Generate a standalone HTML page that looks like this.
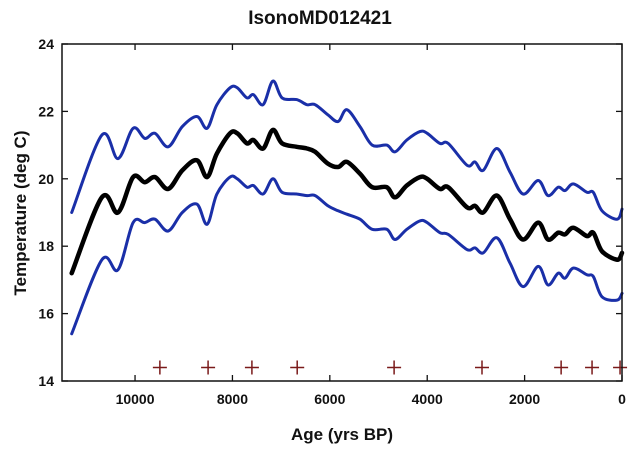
<!DOCTYPE html>
<html><head><meta charset="utf-8"><style>
html,body{margin:0;padding:0;background:#fff;}
svg{display:block;font-family:"Liberation Sans",sans-serif;}
</style></head><body>
<svg id="chart" width="639" height="455" viewBox="0 0 639 455" xmlns="http://www.w3.org/2000/svg">
<text x="320" y="24" text-anchor="middle" font-size="19" font-weight="bold" fill="#111">IsonoMD012421</text>
<text transform="translate(26,213) rotate(-90)" text-anchor="middle" font-size="17" font-weight="bold" fill="#111">Temperature (deg C)</text>
<text x="342" y="440" text-anchor="middle" font-size="17" font-weight="bold" fill="#111">Age (yrs BP)</text>
<g id="axes"></g>
<g id="series"></g>
<g id="markers"></g>
<rect x="62" y="44" width="560" height="337" fill="none" stroke="#111" stroke-width="1.5"/>
</svg>
<script>
const ages=[11300,10680,10350,10040,9800,9590,9320,9030,8730,8520,8320,8050,7900,7700,7570,7370,7170,6980,6680,6470,6300,6040,5830,5650,5380,5130,4830,4660,4420,4150,4000,3740,3570,3180,3020,2850,2570,2300,2030,1720,1520,1310,1170,1000,720,590,410,100,0];
const meanTemp=[17.2,19.45,19.0,20.05,19.9,20.05,19.7,20.25,20.55,20.05,20.75,21.35,21.35,21.05,21.15,20.9,21.45,21.05,20.95,20.9,20.8,20.45,20.35,20.5,20.15,19.75,19.75,19.45,19.8,20.05,20.0,19.7,19.75,19.15,19.2,19.0,19.5,18.8,18.2,18.7,18.2,18.4,18.35,18.55,18.3,18.4,17.85,17.6,17.8];
const upperTemp=[19.0,21.3,20.6,21.5,21.2,21.35,20.95,21.55,21.85,21.5,22.2,22.7,22.7,22.4,22.5,22.2,22.9,22.4,22.35,22.2,22.2,21.9,21.7,22.05,21.55,21.0,21.0,20.8,21.15,21.4,21.35,21.05,21.05,20.4,20.5,20.25,20.9,20.2,19.55,19.95,19.5,19.75,19.65,19.85,19.6,19.6,19.05,18.8,19.1];
const lowerTemp=[15.4,17.6,17.3,18.7,18.7,18.8,18.45,19.0,19.25,18.65,19.55,20.05,20.0,19.75,19.8,19.55,20.0,19.6,19.55,19.5,19.5,19.2,19.05,18.95,18.8,18.5,18.5,18.2,18.5,18.75,18.7,18.4,18.35,17.9,17.95,17.8,18.25,17.5,16.8,17.4,16.85,17.2,17.05,17.35,17.15,17.1,16.5,16.4,16.6];
const dateAges=[9490,8500,7600,6670,4680,2875,1250,615,40];
const dateLevel=14.4;
const xTicks=[10000,8000,6000,4000,2000,0];
const yTicks=[14,16,18,20,22,24];

const NS="http://www.w3.org/2000/svg";
const X0=62,X1=622,Y0=44,Y1=381,AMAX=11500,TMIN=14,TMAX=24;
function xs(a){return X1-(a/AMAX)*(X1-X0);}
function ys(t){return Y1-(t-TMIN)/(TMAX-TMIN)*(Y1-Y0);}
function mk(tag,attrs,parent){const e=document.createElementNS(NS,tag);for(const k in attrs)e.setAttribute(k,attrs[k]);parent.appendChild(e);return e;}

const axes=document.getElementById('axes');
xTicks.forEach(v=>{
  const x=xs(v);
  const t=mk('line',{x1:x,x2:x,y1:Y1,y2:Y1-6,stroke:'#111','stroke-width':1.3},axes);
  
  
  const t2=mk('line',{x1:x,x2:x,y1:Y0,y2:Y0+6,stroke:'#111','stroke-width':1.3},axes);
  
  
  const l=mk('text',{x:x,y:Y1+23,'text-anchor':'middle','font-size':14,'font-weight':'bold',fill:'#111'},axes);
  l.textContent=v;
  
  
});
yTicks.forEach(v=>{
  const y=ys(v);
  const t=mk('line',{x1:X0,x2:X0+6,y1:y,y2:y,stroke:'#111','stroke-width':1.3},axes);
  
  
  const t2=mk('line',{x1:X1,x2:X1-6,y1:y,y2:y,stroke:'#111','stroke-width':1.3},axes);
  
  
  const l=mk('text',{x:X0-8,y:y+5,'text-anchor':'end','font-size':14,'font-weight':'bold',fill:'#111'},axes);
  l.textContent=v;
  
  
});

const ser=document.getElementById('series');
function line(vals,color,w,name){
  const P=vals.map((v,i)=>[xs(ages[i]),ys(v)]);
  let d='M'+P[0][0].toFixed(1)+','+P[0][1].toFixed(1);
  for(let i=0;i<P.length-1;i++){
    const p0=P[i-1]||P[i],p1=P[i],p2=P[i+1],p3=P[i+2]||P[i+1];
    const c1=[p1[0]+(p2[0]-p0[0])/6,p1[1]+(p2[1]-p0[1])/6];
    const c2=[p2[0]-(p3[0]-p1[0])/6,p2[1]-(p3[1]-p1[1])/6];
    d+=' C'+c1.map(n=>n.toFixed(1)).join(',')+' '+c2.map(n=>n.toFixed(1)).join(',')+' '+p2.map(n=>n.toFixed(1)).join(',');
  }
  const p=mk('path',{d:d,fill:'none',stroke:color,'stroke-width':w,'stroke-linejoin':'round','stroke-linecap':'round'},ser);
  
  
}
line(upperTemp,'#1a2fa8',3,'upper-bound-line');
line(lowerTemp,'#1a2fa8',3,'lower-bound-line');
line(meanTemp,'#000',4.5,'mean-temperature-line');

const mg=document.getElementById('markers');
dateAges.forEach(a=>{
  const x=xs(a),y=ys(dateLevel);
  const g=mk('path',{d:`M${x-7},${y}H${x+7}M${x},${y-7}V${y+7}`,stroke:'#7a1a1a','stroke-width':1.5,fill:'none'},mg);
  
  
});
</script>
</body></html>
